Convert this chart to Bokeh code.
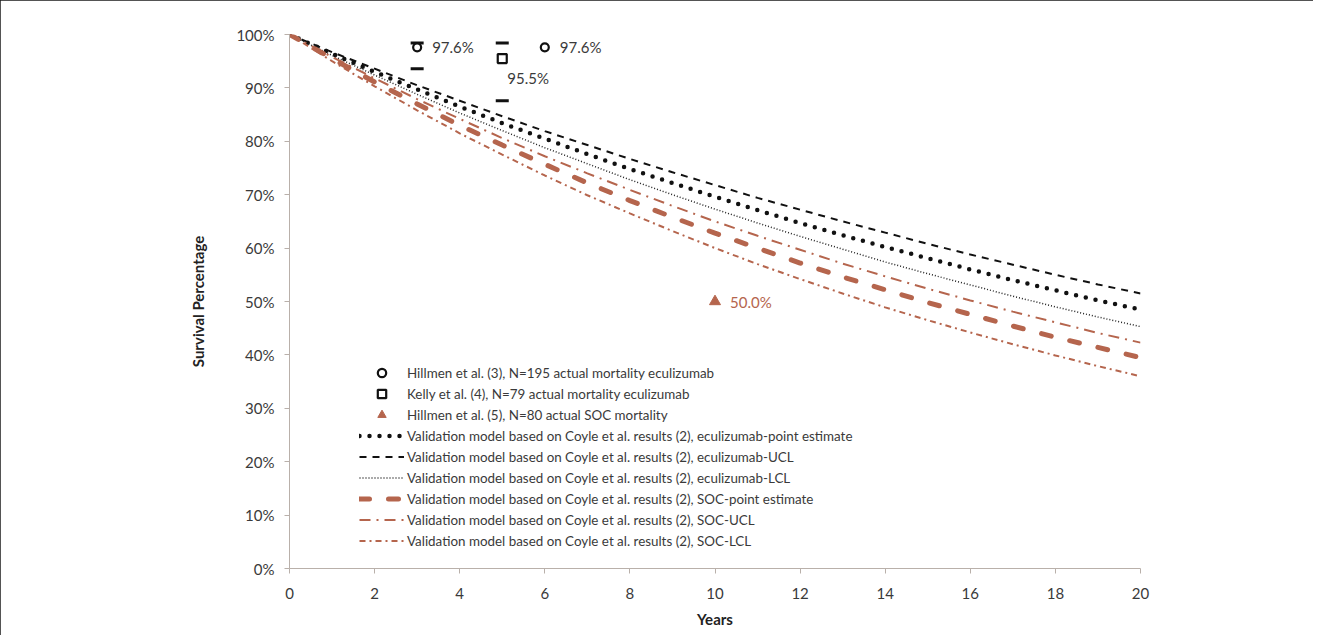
from bokeh.plotting import figure
from bokeh.models import Range1d, FixedTicker, PrintfTickFormatter, Legend, LegendItem
from bokeh.core.properties import value
from bokeh.embed import file_html
from bokeh.resources import INLINE

years = list(range(0, 21))
ecu_point = [100, 96.4, 93.0, 89.7, 86.5, 83.4, 80.5, 77.6, 74.8, 72.2, 69.6,
             67.1, 64.7, 62.4, 60.2, 58.1, 56.0, 54.0, 52.1, 50.2, 48.5]
ecu_ucl = [100, 96.7, 93.6, 90.5, 87.6, 84.7, 81.9, 79.3, 76.7, 74.2, 71.8,
           69.4, 67.2, 65.0, 62.9, 60.8, 58.8, 56.9, 55.0, 53.2, 51.5]
ecu_lcl = [100, 96.1, 92.4, 88.8, 85.3, 82.0, 78.8, 75.8, 72.8, 70.0, 67.3,
           64.7, 62.2, 59.8, 57.4, 55.2, 53.1, 51.0, 49.0, 47.1, 45.3]
soc_point = [100, 95.5, 91.1, 87.0, 83.0, 79.3, 75.7, 72.2, 68.9, 65.8, 62.8,
             60.0, 57.2, 54.6, 52.2, 49.8, 47.6, 45.4, 43.3, 41.4, 39.5]
soc_ucl = [100, 95.8, 91.8, 87.9, 84.2, 80.6, 77.2, 74.0, 70.9, 67.9, 65.0,
           62.3, 59.7, 57.1, 54.7, 52.4, 50.2, 48.1, 46.1, 44.1, 42.3]
soc_lcl = [100, 95.0, 90.3, 85.8, 81.5, 77.5, 73.6, 69.9, 66.5, 63.2, 60.0,
           57.0, 54.2, 51.5, 48.9, 46.5, 44.2, 42.0, 39.9, 37.9, 36.0]

hillmen3_x = [3, 6]
hillmen3_y = [97.6, 97.6]
hillmen3_labels = ["97.6%", "97.6%"]
hillmen3_ci_x = [3, 3]
hillmen3_ci_y = [98.4, 93.6]
kelly_x = [5]
kelly_y = [95.5]
kelly_labels = ["95.5%"]
kelly_ci_x = [5, 5]
kelly_ci_y = [98.4, 87.6]
hillmen5_x = [10]
hillmen5_y = [50.0]
hillmen5_labels = ["50.0%"]

x_ticks = list(range(0, 21, 2))
y_ticks = list(range(0, 101, 10))

BLACK = "#111111"
BROWN = "#b5654d"
TEXT = "#3a3a3a"
FONT = "Lato"

p = figure(width=1313, height=635, x_range=Range1d(0, 20), y_range=Range1d(0, 100),
           output_backend="svg", toolbar_location=None,
           min_border_left=289, min_border_right=173, min_border_top=34, min_border_bottom=67)
p.outline_line_color = None
p.xgrid.grid_line_color = None
p.ygrid.grid_line_color = None
p.styles = {"outline": "2px solid #1a1a1a", "outline-offset": "-2px"}

for ax in (p.xaxis[0], p.yaxis[0]):
    ax.axis_line_color = "#b9b0aa"
    ax.major_tick_line_color = "#b9b0aa"
    ax.major_tick_out = 5
    ax.major_tick_in = 0
    ax.minor_tick_line_color = None
    ax.major_label_text_font = FONT
    ax.major_label_text_font_size = "15px"
    ax.major_label_text_color = TEXT
    ax.axis_label_text_font = FONT
    ax.axis_label_text_font_size = "15px"
    ax.axis_label_text_font_style = "bold"
    ax.axis_label_text_color = "#222222"

p.xaxis[0].ticker = FixedTicker(ticks=x_ticks)
p.yaxis[0].ticker = FixedTicker(ticks=y_ticks)
p.yaxis[0].formatter = PrintfTickFormatter(format="%d%%")
p.xaxis[0].axis_label = "Years"
p.yaxis[0].axis_label = "Survival Percentage"
p.xaxis[0].major_label_standoff = 14
p.yaxis[0].major_label_standoff = 10
p.xaxis[0].axis_label_standoff = 8
p.yaxis[0].axis_label_standoff = 26

# model lines
l_ecu_point = p.line(years, ecu_point, line_color=BLACK, line_width=4.5, line_dash="0 10", line_cap="round")
l_ecu_ucl = p.line(years, ecu_ucl, line_color=BLACK, line_width=2, line_dash="7 6")
l_ecu_lcl = p.line(years, ecu_lcl, line_color="#222222", line_width=1.5, line_dash="1 2")
l_soc_point = p.line(years, soc_point, line_color=BROWN, line_width=5, line_dash="10 19", line_cap="round")
l_soc_ucl = p.line(years, soc_ucl, line_color=BROWN, line_width=2, line_dash="11 6 2 6")
l_soc_lcl = p.line(years, soc_lcl, line_color=BROWN, line_width=2, line_dash="6 4 2 4")

# observed data
p.scatter(hillmen3_ci_x, hillmen3_ci_y, marker="dash", size=13, line_color=BLACK, line_width=3)
p.scatter(kelly_ci_x, kelly_ci_y, marker="dash", size=13, line_color=BLACK, line_width=3)
s_h3 = p.scatter(hillmen3_x, hillmen3_y, marker="circle", size=8, fill_color="white", line_color=BLACK, line_width=2.2)
s_k = p.scatter(kelly_x, kelly_y, marker="square", size=9, fill_color="white", line_color=BLACK, line_width=2.2)
s_h5 = p.scatter(hillmen5_x, hillmen5_y, marker="triangle", size=11, fill_color=BROWN, line_color=BROWN)

p.text(hillmen3_x, hillmen3_y, text=hillmen3_labels, x_offset=15, text_baseline="middle", text_align="left",
       text_font=value(FONT), text_font_size="15px", text_color=TEXT)
p.text(kelly_x, kelly_y, text=kelly_labels, x_offset=5, y_offset=19, text_baseline="middle", text_align="left",
       text_font=value(FONT), text_font_size="15px", text_color=TEXT)
p.text(hillmen5_x, hillmen5_y, text=hillmen5_labels, x_offset=15, text_baseline="middle", text_align="left",
       text_font=value(FONT), text_font_size="15px", text_color=BROWN)

items = [
    LegendItem(label="Hillmen et al. (3), N=195 actual mortality eculizumab", renderers=[s_h3]),
    LegendItem(label="Kelly et al. (4), N=79 actual mortality eculizumab", renderers=[s_k]),
    LegendItem(label="Hillmen et al. (5), N=80 actual SOC mortality", renderers=[s_h5]),
    LegendItem(label="Validation model based on Coyle et al. results (2), eculizumab-point estimate", renderers=[l_ecu_point]),
    LegendItem(label="Validation model based on Coyle et al. results (2), eculizumab-UCL", renderers=[l_ecu_ucl]),
    LegendItem(label="Validation model based on Coyle et al. results (2), eculizumab-LCL", renderers=[l_ecu_lcl]),
    LegendItem(label="Validation model based on Coyle et al. results (2), SOC-point estimate", renderers=[l_soc_point]),
    LegendItem(label="Validation model based on Coyle et al. results (2), SOC-UCL", renderers=[l_soc_ucl]),
    LegendItem(label="Validation model based on Coyle et al. results (2), SOC-LCL", renderers=[l_soc_lcl]),
]
legend = Legend(items=items, location=(70, 17))
legend.background_fill_alpha = 0
legend.border_line_color = None
legend.padding = 0
legend.margin = 0
legend.spacing = 0
legend.label_height = 21
legend.glyph_height = 21
legend.glyph_width = 45
legend.label_standoff = 3
legend.label_text_font = FONT
legend.label_text_font_size = "13.4px"
legend.label_text_color = TEXT
p.add_layout(legend)

open("out.html", "w").write(file_html(p, INLINE))
